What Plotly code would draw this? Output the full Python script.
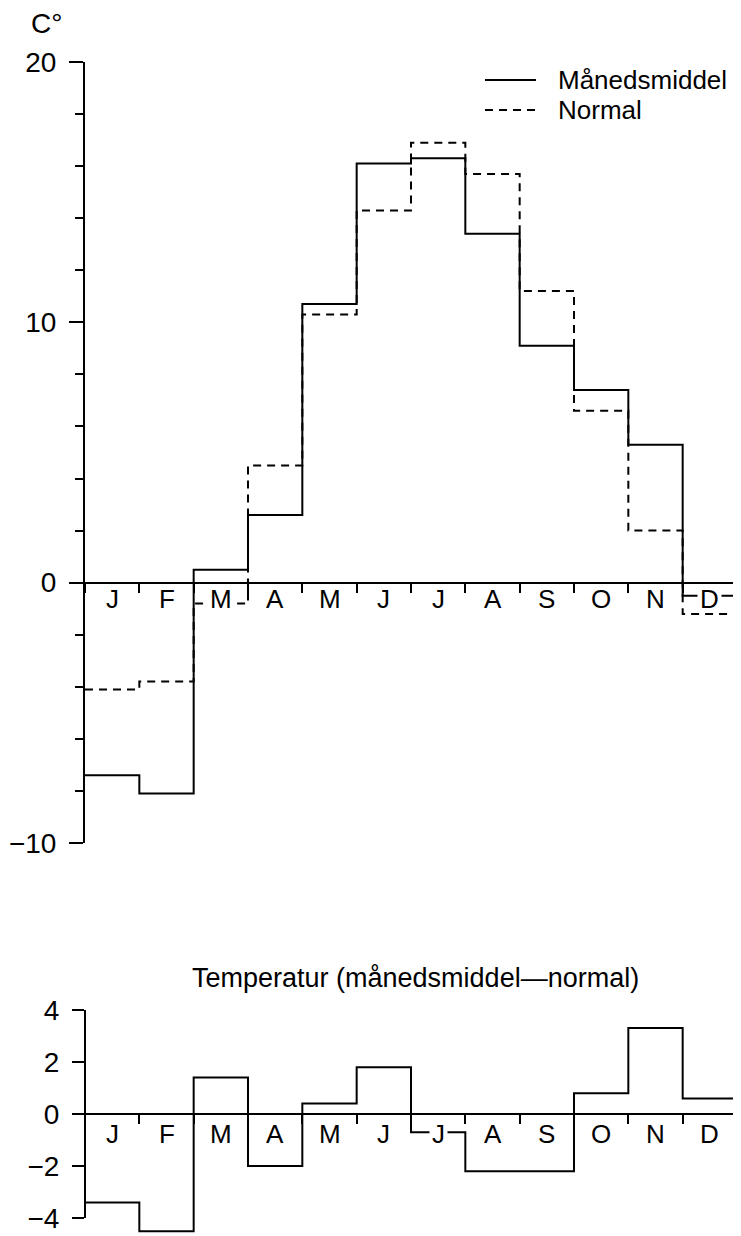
import plotly.graph_objects as go

# Monthly mean temperature vs. normal (°C)
months = ["J", "F", "M", "A", "M", "J", "J", "A", "S", "O", "N", "D"]
maanedsmiddel = [-7.4, -8.1, 0.5, 2.6, 10.7, 16.1, 16.3, 13.4, 9.1, 7.4, 5.3, -0.5]
normal = [-4.1, -3.8, -0.8, 4.5, 10.3, 14.3, 16.9, 15.7, 11.2, 6.6, 2.0, -1.2]
avvik = [-3.4, -4.5, 1.4, -2.0, 0.4, 1.8, -0.7, -2.2, -2.2, 0.8, 3.3, 0.6]

FONT = "Liberation Sans"
OFF = 8                      # the page body adds an 8px margin
W, H = 741 - OFF, 1236 - OFF
ML = 85 - OFF
MR = W - (737 - OFF)
PW = W - ML - MR
DASH = "8px,6px"


def steps(vals):
    """Month steps: one point per month start, then close to zero at the end."""
    xs = list(range(len(vals) + 1)) + [len(vals)]
    ys = list(vals) + [vals[-1], 0]
    return xs, ys


def py(px):
    # page row -> paper fraction
    return (H - (px - OFF)) / H


def pxf(px):
    # page column -> paper fraction (plot area based)
    return (px - OFF - ML) / PW


fig = go.Figure()

x, y = steps(maanedsmiddel)
fig.add_trace(go.Scatter(x=x, y=y, mode="lines", line_shape="hv", name="Månedsmiddel",
                         line={"color": "black", "width": 2}, xaxis="x", yaxis="y"))
x, y = steps(normal)
fig.add_trace(go.Scatter(x=x, y=y, mode="lines", line_shape="hv", name="Normal",
                         line={"color": "black", "width": 2, "dash": DASH},
                         xaxis="x", yaxis="y"))
x, y = steps(avvik)
fig.add_trace(go.Scatter(x=x, y=y, mode="lines", line_shape="hv", name="Avvik",
                         line={"color": "black", "width": 2}, xaxis="x2", yaxis="y2"))

# axis geometry
top_rng = [-10, 20]
top_dom = [py(843), py(62)]
bot_rng = [-4.6, 4.2]
bot_dom = [py(1114 + 4.6 * 26.03), py(1114 - 4.2 * 26.03)]


def zero_pos(rng, dom):
    return dom[0] + (0 - rng[0]) / (rng[1] - rng[0]) * (dom[1] - dom[0])


month_ticks = dict(
    range=[0, 12], domain=[0, 1], showgrid=False, zeroline=False, showline=False,
    tickmode="array", tickvals=list(range(13)), ticks="outside", ticklen=9,
    tickwidth=2, tickcolor="black", showticklabels=False, anchor="free",
    automargin=False,
)

fig.update_layout(
    width=W, height=H,
    margin={"l": ML, "r": MR, "t": 0, "b": 0, "pad": 0},
    plot_bgcolor="white", paper_bgcolor="white",
    font={"family": FONT, "size": 28, "color": "black"},
    showlegend=False,
    xaxis={**month_ticks, "position": zero_pos(top_rng, top_dom)},
    yaxis=dict(
        range=top_rng, domain=top_dom, showgrid=False, automargin=False,
        zeroline=True, zerolinecolor="black", zerolinewidth=2,
        showline=True, linecolor="black", linewidth=2,
        tickmode="array", tickvals=[-10, 0, 10, 20],
        ticks="outside", ticklen=14, tickwidth=2, tickcolor="black",
        ticklabelstandoff=7,
        minor={"tickmode": "array", "tickvals": [-8, -6, -4, -2, 2, 4, 6, 8, 12, 14, 16, 18],
               "ticks": "outside", "ticklen": 8, "tickwidth": 2, "tickcolor": "black"},
    ),
    xaxis2={**month_ticks, "position": zero_pos(bot_rng, bot_dom)},
    yaxis2=dict(
        range=bot_rng, domain=bot_dom, showgrid=False, automargin=False,
        zeroline=True, zerolinecolor="black", zerolinewidth=2,
        showline=False,
        tickmode="array", tickvals=[-4, -2, 0, 2, 4],
        ticks="outside", ticklen=12, tickwidth=2, tickcolor="black",
        ticklabelstandoff=7,
    ),
)

# bottom y-axis line only spans the labelled range
fig.add_shape(type="line", xref="x2 domain", yref="y2", x0=0, x1=0, y0=-4, y1=4,
              line={"color": "black", "width": 2})

# legend drawn by hand so the line samples get their full length
for name, dash, row in [("Månedsmiddel", None, 80), ("Normal", DASH, 110)]:
    fig.add_shape(type="line", xref="paper", yref="paper",
                  x0=pxf(485), x1=pxf(536), y0=py(row), y1=py(row),
                  line={"color": "black", "width": 2, "dash": dash})
    fig.add_annotation(x=pxf(556), y=py(row), xref="paper", yref="paper", text=name,
                       showarrow=False, xanchor="left", yanchor="middle",
                       font={"size": 26})

# month letters sit on the zero line, blanking the lines behind them
for i, m in enumerate(months):
    fig.add_annotation(x=i + 0.5, y=0, xref="x", yref="y", text=m, showarrow=False,
                       yanchor="middle", yshift=-16, height=22, bgcolor="white",
                       borderpad=2, font={"size": 26})
    fig.add_annotation(x=i + 0.5, y=0, xref="x2", yref="y2", text=m, showarrow=False,
                       yanchor="middle", yshift=-20, height=22, bgcolor="white",
                       borderpad=2, font={"size": 26})

fig.add_annotation(x=pxf(46), y=py(23), xref="paper", yref="paper",
                   xanchor="center", yanchor="middle",
                   text="C°", showarrow=False, font={"size": 28})
fig.add_annotation(x=pxf(415), y=py(978), xref="paper", yref="paper",
                   xanchor="center", yanchor="middle",
                   text="Temperatur (månedsmiddel—normal)", showarrow=False,
                   font={"size": 27})

fig.write_html("out.html")
